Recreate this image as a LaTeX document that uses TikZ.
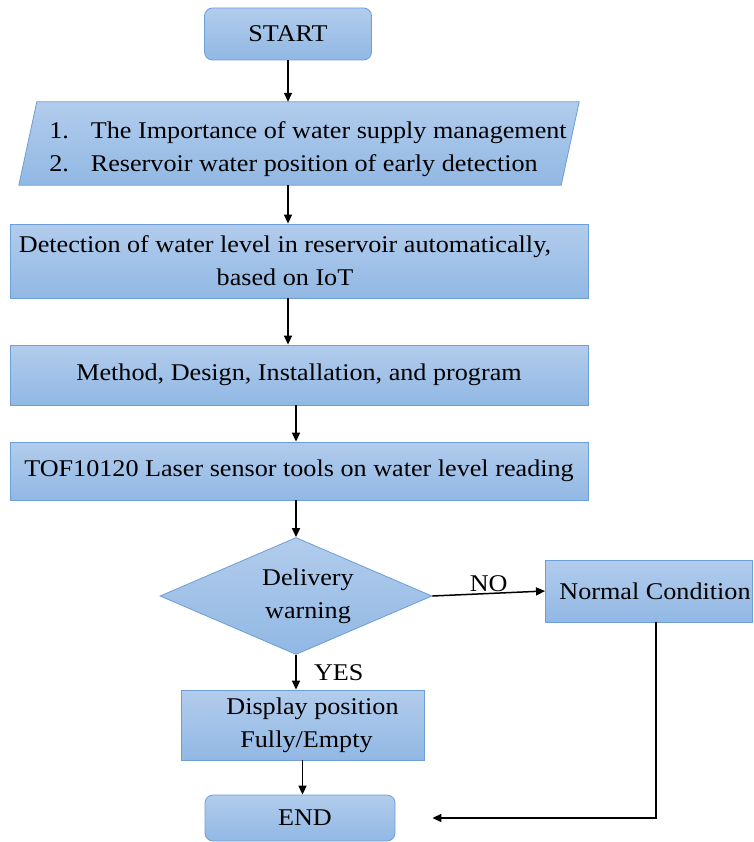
\documentclass[tikz,border=0pt]{standalone}
\usepackage{fontspec}
\setmainfont{Liberation Serif}[FakeStretch=1.09]
\usetikzlibrary{shapes.geometric, arrows.meta, positioning, calc}
\definecolor{boxtop}{RGB}{178,204,236}
\definecolor{boxbot}{RGB}{145,184,228}
\definecolor{boxline}{RGB}{110,158,214}
\tikzset{
  base/.style = {
    draw=boxline, line width=0.8pt, top color=boxtop, bottom color=boxbot,
    font=\fontsize{24}{33}\selectfont, text centered, align=center, inner sep=2pt
  },
  terminal/.style = {
    base, rounded corners=8pt
  },
  process/.style = {
    base
  },
  decision/.style = {
    base, diamond, aspect=2.3, inner sep=0pt,
    minimum width=272pt, minimum height=117pt
  },
  arrow/.style = {
    line width=1.5pt, -{Triangle[length=9pt,width=8pt]}
  },
  tag/.style = {
    font=\fontsize{24}{28}\selectfont
  }
}

\begin{document}
\begin{tikzpicture}[x=1pt, y=-1pt]
  \useasboundingbox (0,0) rectangle (753,842);

  % Main column
  \node[terminal, minimum width=167pt, minimum height=52pt] (start) at (288,34) {START};
  \node[minimum width=560pt, minimum height=83pt, inner sep=0pt] (aims) at (299,143.5) {};
  \shade[top color=boxtop, bottom color=boxbot, draw=boxline, line width=0.8pt]
    ([xshift=18pt]aims.north west) -- (aims.north east)
    -- ([xshift=-18pt]aims.south east) -- (aims.south west) -- cycle;
  \node[font=\fontsize{24}{33}\selectfont] at (308,148)
    {\begin{tabular}{@{}l@{\hspace{22pt}}l@{}}
       1. & The Importance of water supply management\\
       2. & Reservoir water position of early detection
     \end{tabular}};
  \node[process, minimum width=578pt, minimum height=74pt] (detect) at (299,261)
    {Detection of water level in reservoir automatically,\hspace*{28pt}\\based on IoT\hspace*{28pt}};
  \node[process, minimum width=578pt, minimum height=60pt] (method) at (299,375)
    {Method, Design, Installation, and program};
  \node[process, minimum width=578pt, minimum height=58pt] (sensor) at (299,471)
    {TOF10120 Laser sensor tools on water level reading};

  % Decision and branches
  \node[decision] (warn) at (296,596)
    {\hspace*{24pt}\raisebox{-4pt}{Delivery}\\\hspace*{24pt}\raisebox{-4pt}{warning}};
  \node[process, minimum width=207pt, minimum height=62pt] (normal) at (649,591)
    {\hspace*{12pt}Normal Condition};
  \node[process, minimum width=243pt, minimum height=70pt] (display) at (302.5,725)
    {\hspace*{20pt}Display position\\\hspace*{8pt}Fully/Empty};
  \node[terminal, minimum width=190pt, minimum height=46pt] (stop) at (300,818)
    {\hspace*{10pt}END};
  \coordinate[right=37pt of stop] (endin);

  % Arrows main column
  \draw[arrow] (start.south) -- (start.south |- aims.north);
  \draw[arrow] (aims.south -| start.south) -- (detect.north -| start.south);
  \draw[arrow] (detect.south -| start.south) -- (method.north -| start.south);
  \draw[arrow] (method.south -| warn.north) -- (sensor.north -| warn.north);
  \draw[arrow] (sensor.south -| warn.north) -- (warn.north);

  % Arrows from decision
  \draw[arrow] (warn.east) -- node[tag, above=-2pt] {NO} (normal.west);
  \draw[arrow] (warn.south) -- node[tag, right=14pt] {YES} (warn.south |- display.north);
  \draw[arrow] (display.south) -- (display.south |- stop.north);
  \draw[arrow] ([xshift=7pt]normal.south) |- (endin);

\end{tikzpicture}
\end{document}
